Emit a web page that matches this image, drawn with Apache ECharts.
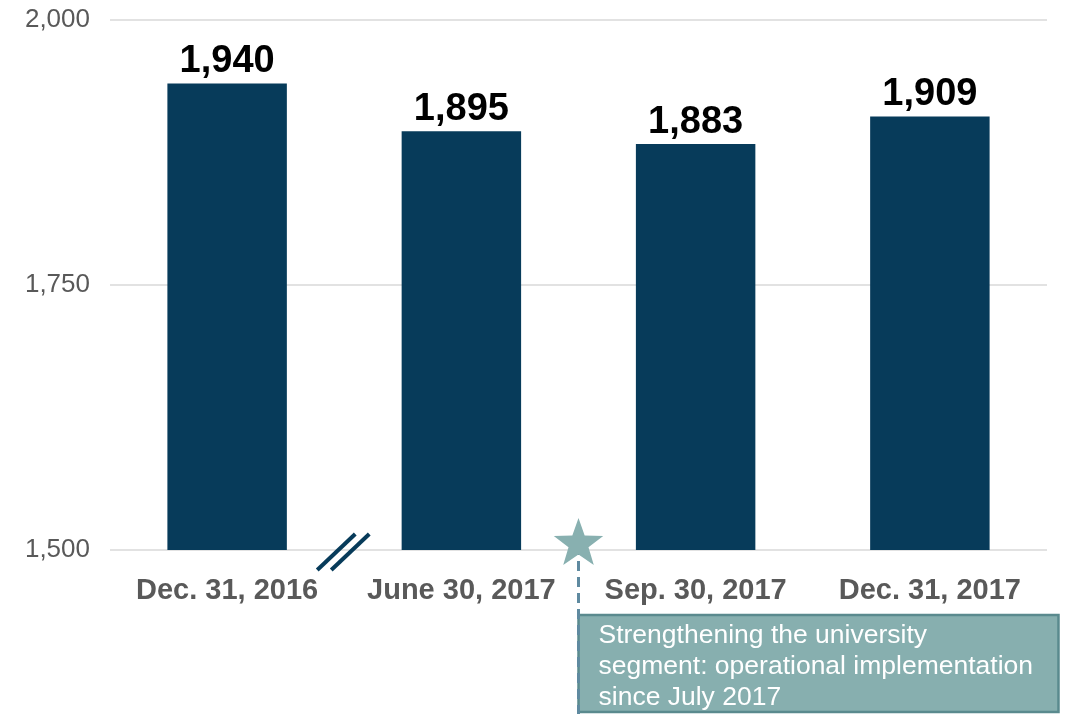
<!DOCTYPE html>
<html>
<head>
<meta charset="utf-8">
<script src="https://cdn.jsdelivr.net/npm/echarts@6/dist/echarts.min.js"></script>
<style>
  html, body { margin: 0; padding: 0; background: #fff; }
  #main { width: 1074px; height: 714px; }
</style>
</head>
<body>
<div id="main"></div>
<script>
var categories = ["Dec. 31, 2016", "June 30, 2017", "Sep. 30, 2017", "Dec. 31, 2017"];
var values = [1940, 1895, 1883, 1909];
var yTicks = [1500, 1750, 2000];
var noteLines = ["Strengthening the university", "segment: operational implementation", "since July 2017"];

var font = "'Liberation Sans', Arial, sans-serif";
var myChart = echarts.init(document.getElementById("main"));

var option = {
  animation: false,
  grid: { left: 110, right: 27, top: 20, bottom: 164 },
  xAxis: {
    type: "category",
    data: categories,
    axisLine: { show: false },
    axisTick: { show: false },
    axisLabel: {
      interval: 0,
      hideOverlap: false,
      margin: 26,
      color: "#595959",
      fontSize: 29,
      fontWeight: "bold",
      fontFamily: font
    }
  },
  yAxis: {
    type: "value",
    min: yTicks[0],
    max: yTicks[yTicks.length - 1],
    interval: 250,
    axisLine: { show: false },
    axisTick: { show: false },
    splitLine: { lineStyle: { color: "#d9d9d9", width: 1.5 } },
    axisLabel: {
      margin: 20,
      color: "#595959",
      fontSize: 26,
      fontFamily: font,
      formatter: function (v) { return v.toLocaleString("en-US"); }
    }
  },
  series: [
    {
      type: "bar",
      data: values,
      barWidth: "51%",
      itemStyle: { color: "#073b5a" },
      label: {
        show: true,
        position: "top",
        distance: 3,
        color: "#000",
        fontSize: 38,
        fontWeight: "bold",
        fontFamily: font,
        formatter: function (p) { return p.value.toLocaleString("en-US"); }
      }
    }
  ]
};

myChart.setOption(option);

// annotations placed from the axis scales
var x0 = myChart.convertToPixel({ xAxisIndex: 0 }, 0);
var x1 = myChart.convertToPixel({ xAxisIndex: 0 }, 1);
var x2 = myChart.convertToPixel({ xAxisIndex: 0 }, 2);
var yBase = myChart.convertToPixel({ yAxisIndex: 0 }, yTicks[0]);
var breakX = (x0 + x1) / 2;
var starX = (x1 + x2) / 2;

function starPoints(cx, cy, R, r) {
  var pts = [];
  for (var i = 0; i < 10; i++) {
    var rad = i % 2 === 0 ? R : r;
    var a = -Math.PI / 2 + i * Math.PI / 5;
    pts.push([cx + rad * Math.cos(a), cy + rad * Math.sin(a)]);
  }
  return pts;
}

myChart.setOption({
  graphic: [
    {
      type: "line",
      shape: { x1: breakX - 27, y1: yBase + 20, x2: breakX + 11, y2: yBase - 16 },
      style: { stroke: "#073b5a", lineWidth: 4 }
    },
    {
      type: "line",
      shape: { x1: breakX - 13, y1: yBase + 20, x2: breakX + 25, y2: yBase - 16 },
      style: { stroke: "#073b5a", lineWidth: 4 }
    },
    {
      type: "rect",
      shape: { x: starX, y: yBase + 65, width: 480, height: 97 },
      style: { fill: "#87afaf", stroke: "#5a8a8e", lineWidth: 2.5 }
    },
    {
      type: "line",
      shape: { x1: starX, y1: yBase - 5, x2: starX, y2: 714 },
      style: { stroke: "#5f8aa0", lineWidth: 3, lineDash: [10, 6] }
    },
    {
      type: "polygon",
      shape: { points: starPoints(starX, yBase - 6, 26, 10.5) },
      style: { fill: "#88b0b0" }
    },
    {
      type: "text",
      x: starX + 20,
      y: yBase + 70,
      style: {
        text: noteLines.join("\n"),
        fill: "#fff",
        fontSize: 26.5,
        lineHeight: 31,
        fontFamily: font
      }
    }
  ]
});
</script>
</body>
</html>
